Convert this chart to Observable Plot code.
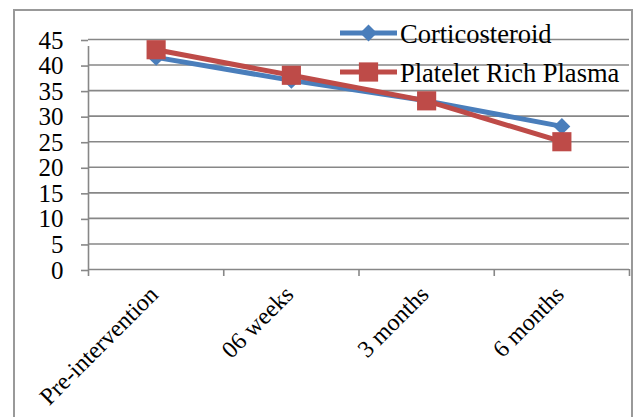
<!DOCTYPE html>
<html>
<head>
<meta charset="utf-8">
<script src="https://cdn.jsdelivr.net/npm/d3@7"></script>
<script src="https://cdn.jsdelivr.net/npm/@observablehq/plot@0.6"></script>
<style>
  body { margin: 0; background: #fff; }
  #wrap { position: relative; width: 633px; height: 417px; overflow: hidden; font-family: "Liberation Serif", "Times New Roman", serif; }
  #border { position: absolute; left: 13px; top: 9px; width: 620px; height: 430px; border: 2px solid #999; box-sizing: border-box; }
  #chart, #legend { position: absolute; left: 0; top: 0; }
</style>
</head>
<body>
<div id="wrap">
  <div id="border"></div>
  <div id="chart"></div>
  <svg id="legend" width="633" height="417"></svg>
</div>
<script>
const categories = ["Pre-intervention", "06 weeks", "3 months", "6 months"];
const seriesNames = ["Corticosteroid", "Platelet Rich Plasma"];
const corticosteroid = [41.5, 37, 33, 28];
const plateletRichPlasma = [43, 38, 33, 25];
const yTicks = [0, 5, 10, 15, 20, 25, 30, 35, 40, 45];
const colors = ["#4a7ebb", "#be4b48"];

const rows = (vals, name) => vals.map((v, i) => ({cat: categories[i], pos: i + 0.5, value: v, series: name}));
const cort = rows(corticosteroid, seriesNames[0]);
const prp = rows(plateletRichPlasma, seriesNames[1]);
const boundaries = categories.map((d, i) => i).concat([categories.length]);
const gridColor = "#878787";
const serif = "'Liberation Serif', 'Times New Roman', serif";

const chart = Plot.plot({
  width: 633,
  height: 417,
  marginLeft: 88,
  marginRight: 4,
  marginTop: 39,
  marginBottom: 148,
  style: {fontFamily: serif, fontSize: "25px", color: "black", background: "transparent", overflow: "visible"},
  x: {domain: [0, categories.length], axis: null},
  y: {domain: [0, 45]},
  marks: [
    Plot.gridY(yTicks, {stroke: gridColor, strokeOpacity: 1, strokeWidth: 1.6}),
    Plot.ruleX([0], {y1: 0, y2: 45, stroke: gridColor, strokeWidth: 1.6, insetBottom: -7}),
    Plot.axisY(yTicks, {tickSize: 7, tickPadding: 18, stroke: gridColor, strokeWidth: 1.6, fill: "black", fontSize: 25, fontFamily: serif, label: null, dy: 1}),
    Plot.axisX(boundaries, {tickSize: 7, tickFormat: () => "", stroke: gridColor, strokeWidth: 1.6, label: null}),
    Plot.text(categories, {x: (d, i) => i + 0.5, y: 0, text: d => d, rotate: -45, textAnchor: "end", fontSize: 24, fontFamily: serif, dx: -2, dy: 21, fill: "black"}),
    Plot.line(cort, {x: "pos", y: "value", stroke: colors[0], strokeWidth: 5}),
    Plot.dot(cort, {x: "pos", y: "value", symbol: "diamond2", r: 7.6, fill: colors[0], stroke: "none"}),
    Plot.line(prp, {x: "pos", y: "value", stroke: colors[1], strokeWidth: 5}),
    Plot.dot(prp, {x: "pos", y: "value", symbol: "square", r: 10.8, fill: colors[1], stroke: "none"})
  ]
});
document.getElementById("chart").appendChild(chart);

// Legend
const lg = d3.select("#legend");
const legendRows = [
  {name: seriesNames[0], color: colors[0], symbol: d3.symbolDiamond2, size: 184, cy: 33, ty: 43},
  {name: seriesNames[1], color: colors[1], symbol: d3.symbolSquare, size: 370, cy: 72, ty: 82}
];
legendRows.forEach(r => {
  lg.append("line").attr("x1", 340).attr("x2", 397).attr("y1", r.cy).attr("y2", r.cy)
    .attr("stroke", r.color).attr("stroke-width", 5);
  lg.append("path").attr("d", d3.symbol(r.symbol, r.size)()).attr("transform", `translate(368.5,${r.cy})`).attr("fill", r.color);
  lg.append("text").attr("x", 400).attr("y", r.ty).attr("font-size", 26.5)
    .attr("font-family", serif).attr("fill", "black").text(r.name);
});
</script>
</body>
</html>
